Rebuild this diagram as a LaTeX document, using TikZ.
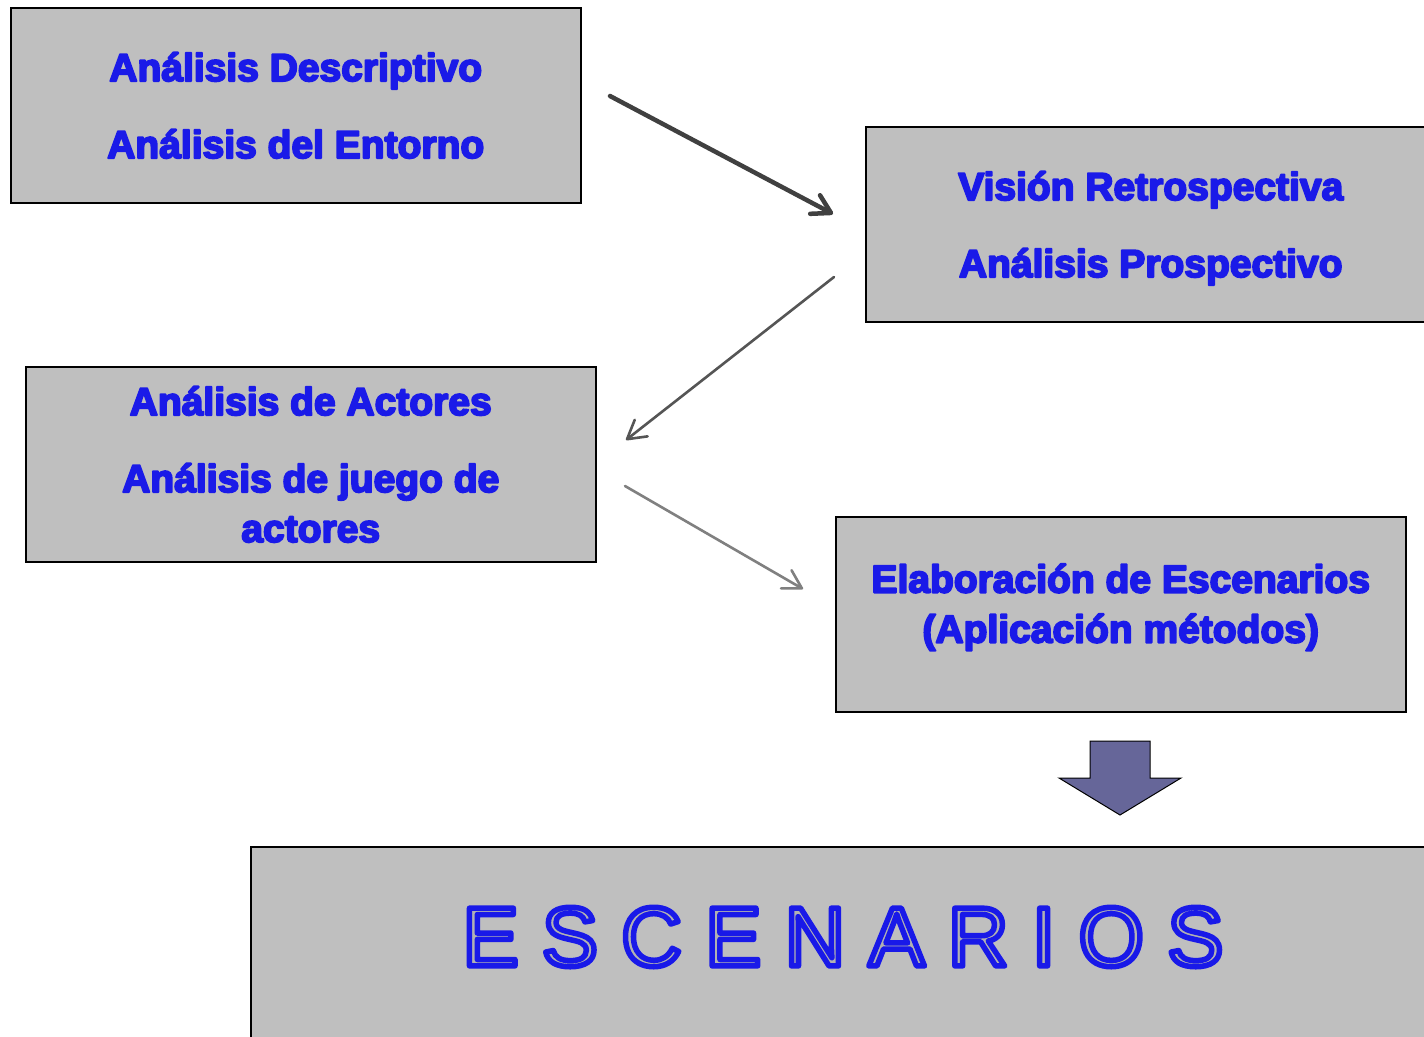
\documentclass[tikz,border=0pt]{standalone}
\usepackage{fontspec}
\setmainfont{Liberation Sans}
\usetikzlibrary{arrows.meta}
\definecolor{boxgray}{HTML}{BFBFBF}
\definecolor{txtblue}{RGB}{26,26,232}
\definecolor{blockarrow}{HTML}{666699}
% text rendering mode through xdvipdfmx specials
\newcommand{\strokeon}[2]{\special{pdf:literal direct 2 Tr #1 w 1 j #2 RG}}
\newcommand{\strokeoff}{\special{pdf:literal direct 0 Tr}}
\newcommand{\outlinetext}[1]{\special{pdf:literal direct 2 Tr 5.5 w 1 j 0.10 0.10 0.91 RG 0.70 0.70 0.70 rg}#1\special{pdf:literal direct 0 Tr 0 g 0 G}}
\begin{document}
\begin{tikzpicture}[x=1pt,y=-1pt,
  box/.style={draw=black, line width=1.5pt, fill=boxgray, anchor=north west,
    minimum width=570pt, minimum height=195pt, inner sep=0pt, align=center,
    text=txtblue, text depth=0pt,
    font=\bfseries\fontsize{39}{50}\selectfont,
    execute at begin node={\strokeon{1.9}{0.10 0.10 0.86}},
    execute at end node={\strokeoff}},
  conn/.style={line width=#1, line cap=round,
    -{Straight Barb[length=18pt,width=21pt,round]}},
  ]
\useasboundingbox (0,0) rectangle (1424,1036);
\fill[white] (0,0) rectangle (1424,1036);

\node[box] (b1) at (10,7) {Análisis Descriptivo\\[27pt]Análisis del Entorno};
\node[box] (b2) at (865,126) {Visión Retrospectiva\\[27pt]Análisis Prospectivo};
\node[box] (b3) at (25,366) {Análisis de Actores\\[27pt]Análisis de juego de\\actores};
\node[box, text depth=22pt] (b4) at (835,516) {Elaboración de Escenarios\\(Aplicación métodos)};
\node[box, minimum width=1200pt, minimum height=260pt] (b5) at (250,846) {};

\coordinate (a1s) at (610,96);
\coordinate (a1e) at (833,214);
\coordinate (a2s) at (834,277);
\coordinate (a2e) at (626,440);
\coordinate (a3s) at (625,486);
\coordinate (a3e) at (803,589);
\draw[conn=4.5pt, draw={rgb,255:red,64;green,64;blue,64}] (a1s) -- (a1e);
\draw[conn=2.6pt, draw={rgb,255:red,85;green,85;blue,85}] (a2s) -- (a2e);
\draw[conn=2.6pt, draw={rgb,255:red,128;green,128;blue,128}] (a3s) -- (a3e);

\draw[fill=blockarrow, draw=black, line width=1pt, line join=miter]
  (1090,741) -- (1150,741) -- (1150,778) -- (1181,778) -- (1120,815)
  -- (1059,778) -- (1090,778) -- cycle;

\node[inner sep=0pt, font=\fontsize{84}{90}\selectfont] (esc) at (843,937)
  {\outlinetext{E S C E N A R I O S}};
\end{tikzpicture}
\end{document}
